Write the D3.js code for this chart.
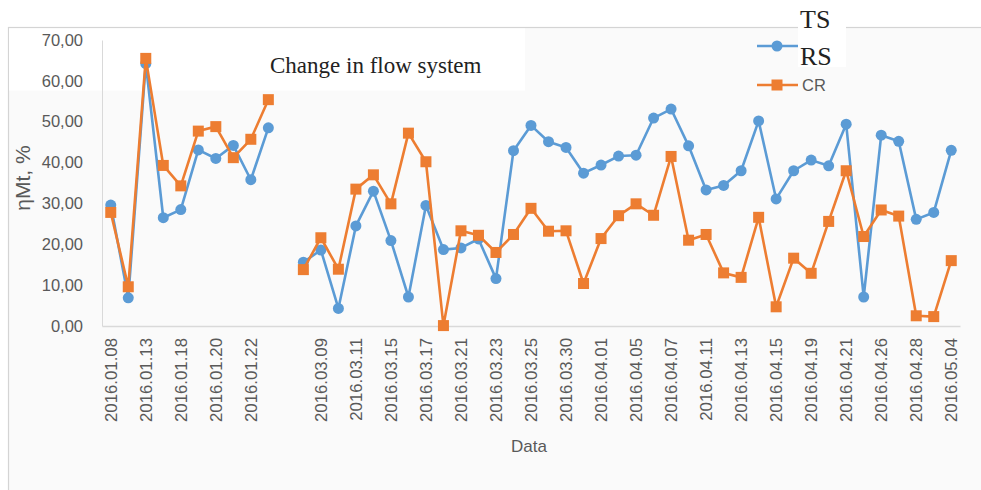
<!DOCTYPE html>
<html><head><meta charset="utf-8">
<script src="https://cdn.jsdelivr.net/npm/d3@7"></script>
<style>html,body{margin:0;padding:0;background:#fff;}svg{display:block;}</style>
</head><body>
<svg id="c" width="981" height="490"></svg>
<script>
// ---- data ----
const seriesNames = ["TS RS", "CR"];
// 49 categories (every second labelled on the axis); index 10 is the gap
const tsrs = [29.6, 6.9, 64.2, 26.5, 28.5, 43.1, 41.0, 44.2, 35.8, 48.5,
  null, 15.6, 18.6, 4.3, 24.5, 33.0, 20.9, 7.1, 29.5, 18.7,
  19.1, 21.3, 11.6, 42.9, 49.1, 45.1, 43.7, 37.4, 39.4, 41.6,
  41.8, 50.9, 53.1, 44.1, 33.3, 34.4, 38.0, 50.2, 31.1, 38.0,
  40.6, 39.2, 49.4, 7.1, 46.7, 45.2, 26.1, 27.8, 43.0];
const cr = [27.8, 9.6, 65.5, 39.3, 34.3, 47.7, 48.8, 41.2, 45.7, 55.4,
  null, 13.8, 21.6, 13.9, 33.5, 37.0, 29.9, 47.2, 40.2, 0.1,
  23.3, 22.2, 18.0, 22.4, 28.8, 23.2, 23.3, 10.4, 21.4, 27.0,
  29.9, 27.1, 41.5, 21.0, 22.4, 13.0, 11.9, 26.6, 4.7, 16.6,
  12.9, 25.6, 38.0, 21.9, 28.4, 26.9, 2.5, 2.3, 16.0];
const xTickLabels = ["2016.01.08","2016.01.13","2016.01.18","2016.01.20","2016.01.22","",
  "2016.03.09","2016.03.11","2016.03.15","2016.03.17","2016.03.21","2016.03.23",
  "2016.03.25","2016.03.30","2016.04.01","2016.04.05","2016.04.07","2016.04.11",
  "2016.04.13","2016.04.15","2016.04.19","2016.04.21","2016.04.26","2016.04.28","2016.05.04"];
const yTicks = [0, 10, 20, 30, 40, 50, 60, 70];
const yTickLabels = ["0,00","10,00","20,00","30,00","40,00","50,00","60,00","70,00"];

// ---- drawing ----
const svg = d3.select("#c");
const blue = "#5b9bd5", orange = "#ed7d31", txt = "#595959";
const sans = "'Liberation Sans', Arial, sans-serif";
const serif = "'Liberation Serif', 'Times New Roman', serif";

// chart area frame
svg.append("rect").attr("x", 8.5).attr("y", 27.5).attr("width", 990).attr("height", 480)
  .attr("fill", "#fafafa").attr("stroke", "#d4d4d4").attr("stroke-width", 1.2);
// white box behind annotation
svg.append("rect").attr("x", 9).attr("y", 28.5).attr("width", 516).attr("height", 62).attr("fill", "#fff");

const idx = d3.range(tsrs.length);
const x = d3.scaleBand().domain(idx).range([102, 960]);
const cx = i => x(i) + x.bandwidth() / 2;
const y = d3.scaleLinear().domain([0, 70]).range([326, 40]);

// axes
const yAxis = svg.append("g").attr("transform", "translate(102,0)")
  .call(d3.axisLeft(y).tickValues(yTicks).tickSize(0).tickPadding(19)
    .tickFormat((d, i) => yTickLabels[i]));
yAxis.select(".domain").attr("stroke", "#d9d9d9").attr("stroke-width", 1);
yAxis.selectAll("text").attr("font-family", sans).attr("font-size", 16.5).attr("fill", txt);

const xAxis = svg.append("g").attr("transform", "translate(0,326)")
  .call(d3.axisBottom(x).tickValues(idx.filter(i => i % 2 === 0)).tickSize(0)
    .tickFormat(i => xTickLabels[i / 2]));
xAxis.select(".domain").attr("stroke", "#d9d9d9").attr("stroke-width", 1.5);
xAxis.selectAll("text").attr("font-family", sans).attr("font-size", 16.8).attr("fill", txt)
  .attr("text-anchor", "end").attr("transform", "rotate(-90)")
  .attr("x", -12).attr("y", 0).attr("dy", "0.35em");

// axis titles
svg.append("text").attr("x", 529).attr("y", 452).attr("text-anchor", "middle")
  .attr("font-family", sans).attr("font-size", 17).attr("fill", txt).text("Data");
svg.append("text").attr("transform", "translate(30,178) rotate(-90)").attr("text-anchor", "middle")
  .attr("font-family", sans).attr("font-size", 21).attr("fill", txt).text("ηMt, %");

// annotation
svg.append("text").attr("x", 270).attr("y", 73).attr("font-family", serif).attr("font-size", 23)
  .attr("fill", "#222").text("Change in flow system");

// series (TS RS first, CR drawn on top)
const line = arr => d3.line().defined(i => arr[i] != null).x(cx).y(i => y(arr[i]))(idx);
svg.append("path").attr("d", line(tsrs)).attr("fill", "none").attr("stroke", blue)
  .attr("stroke-width", 2.6).attr("stroke-linejoin", "round");
svg.append("g").selectAll("circle").data(idx.filter(i => tsrs[i] != null)).join("circle")
  .attr("cx", cx).attr("cy", i => y(tsrs[i])).attr("r", 5.5).attr("fill", blue);
svg.append("path").attr("d", line(cr)).attr("fill", "none").attr("stroke", orange)
  .attr("stroke-width", 2.6).attr("stroke-linejoin", "round");
svg.append("g").selectAll("rect").data(idx.filter(i => cr[i] != null)).join("rect")
  .attr("x", i => cx(i) - 5.5).attr("y", i => y(cr[i]) - 5.5).attr("width", 11).attr("height", 11)
  .attr("fill", orange);

// legend
const lg = svg.append("g");
lg.append("line").attr("x1", 757).attr("x2", 798).attr("y1", 46).attr("y2", 46)
  .attr("stroke", blue).attr("stroke-width", 2.6);
lg.append("circle").attr("cx", 777).attr("cy", 46).attr("r", 5.5).attr("fill", blue);
lg.append("line").attr("x1", 757).attr("x2", 798).attr("y1", 85).attr("y2", 85)
  .attr("stroke", orange).attr("stroke-width", 2.6);
lg.append("rect").attr("x", 771.5).attr("y", 79.5).attr("width", 11).attr("height", 11).attr("fill", orange);
lg.append("text").attr("x", 802).attr("y", 91).attr("font-family", sans).attr("font-size", 16.5)
  .attr("fill", txt).text(seriesNames[1]);
// TS RS label in white box (two lines)
lg.append("rect").attr("x", 798).attr("y", 0).attr("width", 48).attr("height", 67).attr("fill", "#fff");
const parts = seriesNames[0].split(" ");
lg.append("text").attr("x", 800).attr("y", 28).attr("font-family", serif).attr("font-size", 26)
  .attr("fill", "#222").text(parts[0]);
lg.append("text").attr("x", 800).attr("y", 65).attr("font-family", serif).attr("font-size", 26)
  .attr("fill", "#222").text(parts[1]);
</script>
</body></html>
